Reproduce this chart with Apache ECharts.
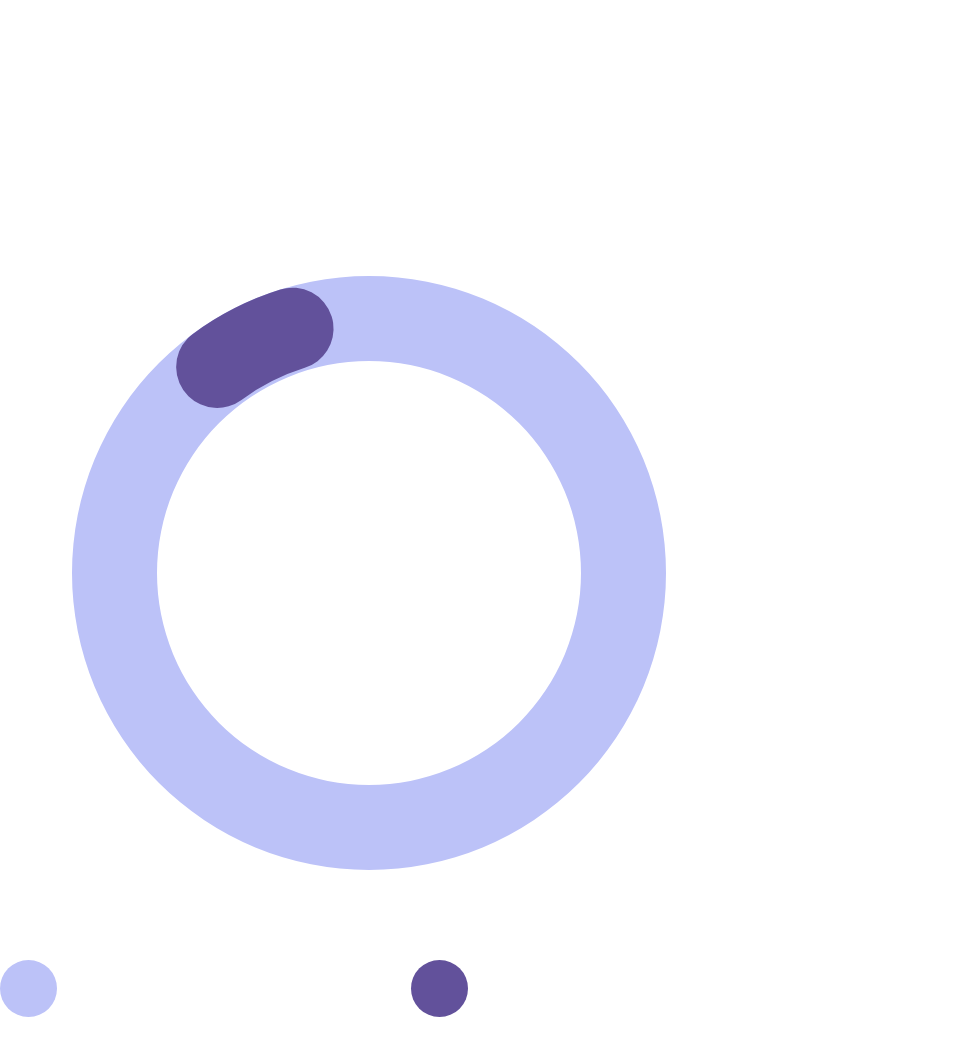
<!DOCTYPE html>
<html>
<head>
<meta charset="utf-8">
<style>html,body{margin:0;padding:0;background:#fff}#chart{width:963px;height:1047px}</style>
<script src="https://cdn.jsdelivr.net/npm/echarts@6/dist/echarts.min.js"></script>
</head>
<body>
<div id="chart"></div>
<script>
const categories = ['Remaining', 'Completed'];
const colors = ['#bcc2f8', '#62519b'];
const totalValue = [100];
const partValues = [10.4, 89.6];

const chart = echarts.init(document.getElementById('chart'), null, {renderer: 'canvas'});
chart.setOption({
  animation: false,
  legend: {
    data: categories,
    left: 0,
    top: 960,
    padding: 0,
    icon: 'circle',
    itemWidth: 57,
    itemHeight: 57,
    itemGap: 354,
    formatter: function () { return ''; },
    selectedMode: false
  },
  series: [
    {
      type: 'pie',
      center: [369, 573],
      radius: [212, 297],
      silent: true,
      label: {show: false},
      labelLine: {show: false},
      data: [{name: categories[0], value: totalValue[0], itemStyle: {color: colors[0]}}]
    },
    {
      type: 'pie',
      center: [369, 573],
      radius: [215, 297],
      startAngle: 135.6,
      silent: true,
      label: {show: false},
      labelLine: {show: false},
      itemStyle: {borderRadius: 41},
      data: [
        {name: categories[1], value: partValues[0], itemStyle: {color: colors[1]}},
        {name: '_rest', value: partValues[1], itemStyle: {color: 'rgba(0,0,0,0)'}}
      ]
    }
  ]
});
</script>
</body>
</html>
